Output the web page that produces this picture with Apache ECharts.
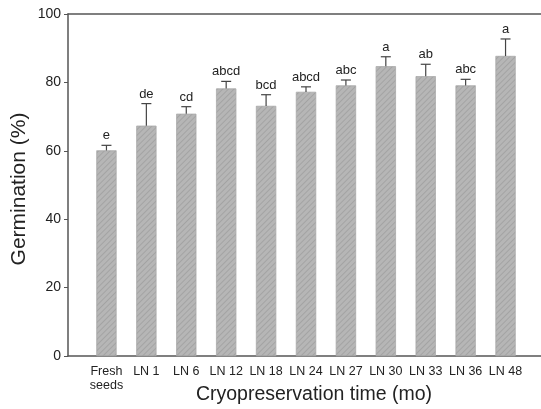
<!DOCTYPE html>
<html><head><meta charset="utf-8">
<script src="https://cdn.jsdelivr.net/npm/echarts@6/dist/echarts.min.js"></script>
<style>html,body{margin:0;padding:0;background:#fff}#c{width:541px;height:409px}</style>
</head><body><div id="c"></div>
<script>
var categories = ['Fresh\nseeds','LN 1','LN 6','LN 12','LN 18','LN 24','LN 27','LN 30','LN 33','LN 36','LN 48'];
var germination = [60.1, 67.3, 70.8, 78.2, 73.1, 77.2, 79.1, 84.7, 81.8, 79.1, 87.7];
var errors = [1.5, 6.5, 2.1, 2.1, 3.3, 1.5, 1.6, 2.8, 3.5, 1.8, 5.0];
var letters = ['e','de','cd','abcd','bcd','abcd','abc','a','ab','abc','a'];
var yTicks = [0, 20, 40, 60, 80, 100];

var font = 'Liberation Sans, Arial, sans-serif';
var chart = echarts.init(document.getElementById('c'), null, {renderer:'canvas'});
var errData = categories.map(function(c,i){ return [i, germination[i], errors[i]]; });
chart.setOption({
  animation:false,
  grid:[
    {left:68, right:0, top:14, bottom:53, outerBoundsMode:'none', containLabel:false},
    {left:86.5, width:439, top:14, bottom:53, outerBoundsMode:'none', containLabel:false}
  ],
  xAxis:[
    {gridIndex:0, type:'category', data:[''], axisLine:{show:true, lineStyle:{color:'#555', width:1.5}}, axisTick:{show:false}, axisLabel:{show:false}},
    {gridIndex:0, type:'category', position:'top', data:[''], axisLine:{show:true, lineStyle:{color:'#555', width:1.5}}, axisTick:{show:false}, axisLabel:{show:false}},
    {gridIndex:1, type:'category', data:categories, axisLine:{show:false}, axisTick:{show:false},
     axisLabel:{interval:0, margin:9, fontFamily:font, fontSize:12.5, lineHeight:14, color:'#222'},
     name:'Cryopreservation time (mo)', nameLocation:'middle', nameGap:29, nameMoveOverlap:false,
     nameTextStyle:{fontFamily:font, fontSize:19.5, color:'#222', padding:[0,0,0,16]}}
  ],
  yAxis:[
    {gridIndex:0, type:'value', min:yTicks[0], max:yTicks[yTicks.length-1], interval:20,
     axisLine:{show:true, lineStyle:{color:'#555', width:1.5}},
     axisTick:{show:true, length:4, lineStyle:{color:'#555'}},
     axisLabel:{fontFamily:font, fontSize:14, color:'#222', margin:7},
     splitLine:{show:false},
     name:'Germination (%)', nameLocation:'middle', nameGap:38, nameMoveOverlap:false,
     nameTextStyle:{fontFamily:font, fontSize:21, color:'#222', padding:[0,0,0,-8]}},
    {gridIndex:1, type:'value', min:0, max:100, show:false, splitLine:{show:false}}
  ],
  series:[
    {type:'bar', xAxisIndex:2, yAxisIndex:1, data:germination, barWidth:20,
     itemStyle:{color:'#b6b6b6', borderColor:'#aaaaaa', borderWidth:0.5,
       decal:{symbol:'rect', dashArrayX:[1,0], dashArrayY:[1,3], rotation:-Math.PI/4, color:'rgba(130,130,130,0.35)', symbolSize:1}}},
    {type:'custom', xAxisIndex:2, yAxisIndex:1, data:errData, z:5,
     renderItem:function(params, api){
       var i = api.value(0), v = api.value(1), e = api.value(2);
       var p0 = api.coord([i, v]), p1 = api.coord([i, v+e]);
       var st = {stroke:'#444', lineWidth:1.2};
       return {type:'group', children:[
         {type:'line', shape:{x1:p0[0], y1:p0[1], x2:p1[0], y2:p1[1]}, style:st},
         {type:'line', shape:{x1:p1[0]-5, y1:p1[1], x2:p1[0]+5, y2:p1[1]}, style:st},
         {type:'text', style:{text:letters[params.dataIndex], x:p1[0], y:p1[1]-3, align:'center', verticalAlign:'bottom',
            font:'13px '+font, fill:'#222'}}
       ]};
     }}
  ]
});
</script></body></html>
